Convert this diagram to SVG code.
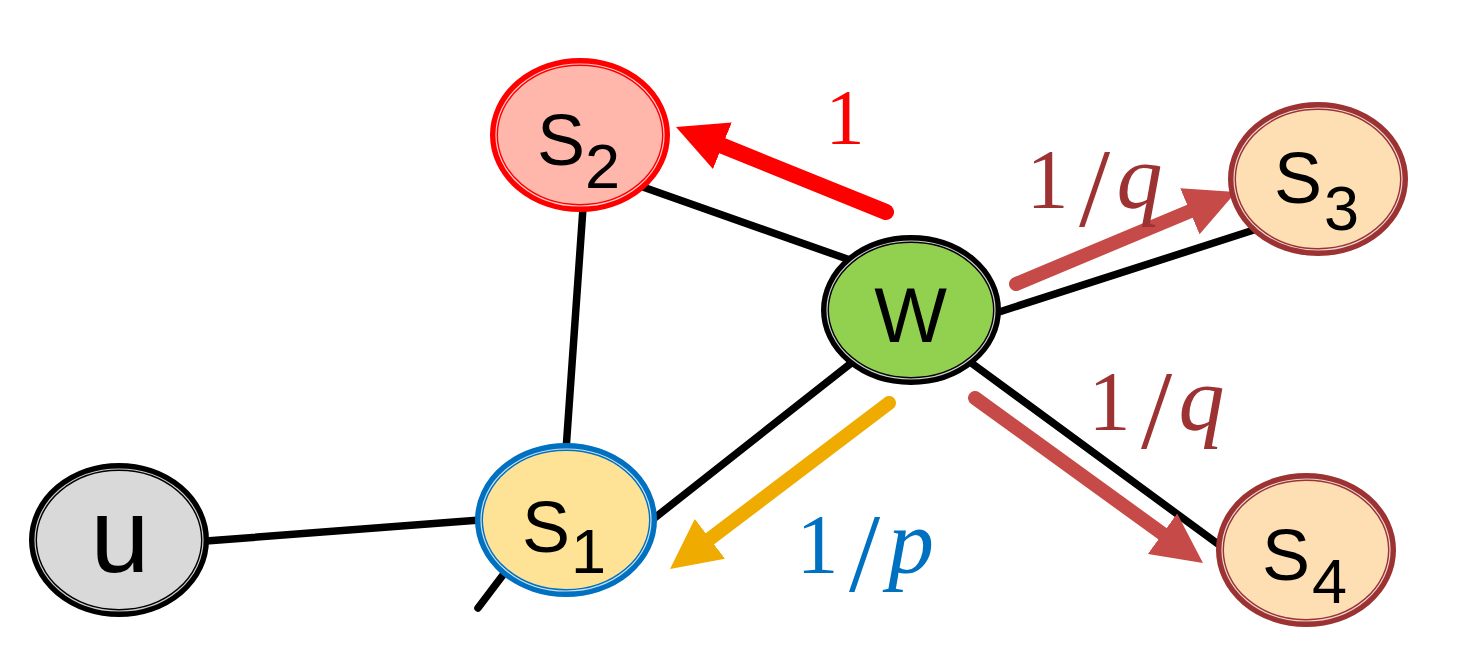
<svg xmlns="http://www.w3.org/2000/svg" width="1469" height="663" viewBox="0 0 1469 663">
  <style>
    .edge { stroke: #000; stroke-width: 7.5; stroke-linecap: round; fill: none; }
    .walk { fill: none; stroke-linecap: round; }
    .band { stroke-width: 8; }
    .gap { fill: none; stroke: #fff; stroke-opacity: 0.8; stroke-width: 1.2; }
    .lbl { font-family: "Liberation Sans", Arial, sans-serif; fill: #000; }
    .main { font-size: 72px; }
    .sub { font-size: 63px; }
    .prob { font-family: "Liberation Serif", "Times New Roman", serif; }
  </style>
  <defs>
    <marker id="head-red" markerUnits="userSpaceOnUse" markerWidth="50" markerHeight="50" refX="2" refY="25" orient="auto">
      <path d="M0,0 L50,25 L0,50 z" fill="#FF0000"/>
    </marker>
    <marker id="head-brick" markerUnits="userSpaceOnUse" markerWidth="50" markerHeight="50" refX="2" refY="25" orient="auto">
      <path d="M0,0 L50,25 L0,50 z" fill="#C64B48"/>
    </marker>
    <marker id="head-gold" markerUnits="userSpaceOnUse" markerWidth="50" markerHeight="50" refX="2" refY="25" orient="auto">
      <path d="M0,0 L50,25 L0,50 z" fill="#F0AB00"/>
    </marker>
  </defs>

  <rect width="1469" height="663" fill="#fff"/>

  <!-- graph edges -->
  <g id="edges">
    <line class="edge" x1="640" y1="186" x2="850" y2="260"/>
    <line class="edge" x1="583" y1="208" x2="566" y2="450"/>
    <line class="edge" x1="850" y1="364" x2="652" y2="520"/>
    <line class="edge" x1="206" y1="541" x2="480" y2="520"/>
    <line class="edge" x1="506" y1="571" x2="478" y2="608"/>
    <line class="edge" x1="996" y1="313" x2="1260" y2="228"/>
    <line class="edge" x1="970" y1="362" x2="1218" y2="544"/>
  </g>

  <!-- transition arrows out of w -->
  <g id="walk-arrows">
    <line class="walk" stroke="#FF0000" stroke-width="16" x1="886" y1="212" x2="720.5" y2="145" marker-end="url(#head-red)"/>
    <line class="walk" stroke="#C64B48" stroke-width="14" x1="1016" y1="284" x2="1191.7" y2="210.5" marker-end="url(#head-brick)"/>
    <line class="walk" stroke="#C64B48" stroke-width="14" x1="975" y1="398" x2="1164.1" y2="534.9" marker-end="url(#head-brick)"/>
    <line class="walk" stroke="#F0AB00" stroke-width="14" x1="889" y1="403" x2="708.3" y2="540" marker-end="url(#head-gold)"/>
  </g>

  <!-- nodes -->
  <g id="node-u">
    <ellipse class="band" cx="119" cy="540" rx="86" ry="73" fill="#D9D9D9" stroke="#000"/>
    <ellipse class="gap" cx="119" cy="540" rx="84" ry="71"/>
    <text class="lbl" x="120" y="572" font-size="106" text-anchor="middle">u</text>
  </g>

  <g id="node-s1">
    <ellipse class="band" cx="566" cy="520" rx="87" ry="73" fill="#FEE396" stroke="#0070C0"/>
    <ellipse class="gap" cx="566" cy="520" rx="85" ry="71"/>
    <text class="lbl main" x="522" y="552">S</text>
    <text class="lbl sub" x="571" y="573">1</text>
  </g>

  <g id="node-s2">
    <ellipse class="band" cx="580" cy="135" rx="86" ry="73" fill="#FFB7AB" stroke="#FF0000"/>
    <ellipse class="gap" cx="580" cy="135" rx="84" ry="71"/>
    <text class="lbl main" x="537" y="165">S</text>
    <text class="lbl sub" x="585" y="188">2</text>
  </g>

  <g id="node-w">
    <ellipse class="band" cx="911" cy="310" rx="86" ry="71" fill="#92D050" stroke="#000"/>
    <ellipse class="gap" cx="911" cy="310" rx="84" ry="69"/>
    <text class="lbl" x="910.5" y="342" font-size="77" text-anchor="middle">W</text>
  </g>

  <g id="node-s3">
    <ellipse class="band" cx="1318" cy="179" rx="86" ry="73" fill="#FEDEB3" stroke="#9C3232"/>
    <ellipse class="gap" cx="1318" cy="179" rx="84" ry="71"/>
    <text class="lbl main" x="1274" y="203">S</text>
    <text class="lbl sub" x="1324" y="230">3</text>
  </g>

  <g id="node-s4">
    <ellipse class="band" cx="1306" cy="550" rx="86" ry="73" fill="#FEDEB3" stroke="#9C3232"/>
    <ellipse class="gap" cx="1306" cy="550" rx="84" ry="71"/>
    <text class="lbl main" x="1262" y="580">S</text>
    <text class="lbl sub" x="1312" y="603">4</text>
  </g>

  <!-- transition weights -->
  <g id="weights" class="prob">
    <text x="845" y="143" font-size="78" fill="#FF0000" text-anchor="middle">1</text>

    <text fill="#9C3232">
      <tspan x="1026.5" y="208" font-size="84">1</tspan><tspan x="1079" y="226" font-size="112">/</tspan><tspan x="1116.5" y="208" font-size="92" font-style="italic">q</tspan>
    </text>

    <text fill="#9C3232">
      <tspan x="1088.5" y="430" font-size="84">1</tspan><tspan x="1141" y="448" font-size="112">/</tspan><tspan x="1178.5" y="430" font-size="92" font-style="italic">q</tspan>
    </text>

    <text fill="#0070C0">
      <tspan x="796.5" y="573" font-size="84">1</tspan><tspan x="849" y="591" font-size="112">/</tspan><tspan x="888" y="573" font-size="92" font-style="italic">p</tspan>
    </text>
  </g>
</svg>
